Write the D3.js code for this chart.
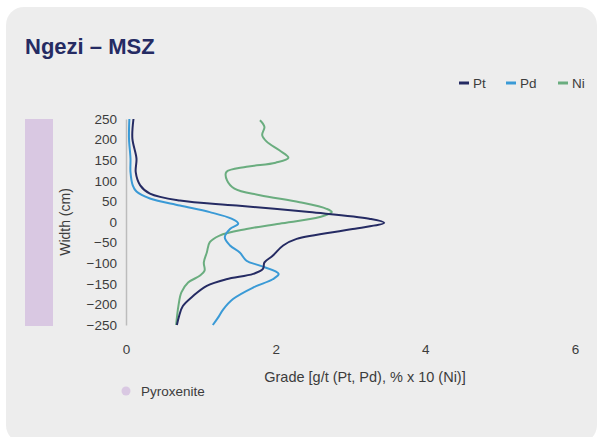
<!DOCTYPE html>
<html>
<head>
<meta charset="utf-8">
<script src="https://cdn.jsdelivr.net/npm/d3@7"></script>
<style>
  body { margin: 0; background: #fff; }
  text { font-family: "Liberation Sans", Arial, sans-serif; }
</style>
</head>
<body>
<div id="chart"></div>
<script>
    // Series: grade by depth (cm)
    const ptDepth = [250, 203, 154, 121, 89, 69, 52, 40, 24, 8, -2, -17, -41, -57, -82, -98, -114, -126, -139, -155, -179, -204, -228, -250];
    const ptGrade = [0.10, 0.085, 0.14, 0.13, 0.19, 0.32, 0.72, 1.48, 2.45, 3.25, 3.45, 3.03, 2.28, 2.10, 1.96, 1.85, 1.83, 1.70, 1.34, 1.08, 0.90, 0.76, 0.71, 0.68];

    const pdDepth = [250, 203, 154, 121, 89, 74, 57, 40, 24, 8, -4, -17, -37, -57, -74, -94, -106, -126, -139, -159, -187, -212, -232, -250];
    const pdGrade = [0.045, 0.04, 0.06, 0.06, 0.09, 0.14, 0.32, 0.72, 1.12, 1.41, 1.50, 1.39, 1.32, 1.39, 1.52, 1.61, 1.79, 2.04, 1.96, 1.70, 1.43, 1.30, 1.23, 1.16];

    const niDepth = [247, 231, 211, 195, 174, 156, 144, 134, 121, 101, 81, 65, 48, 32, 24, 12, -4, -17, -33, -49, -74, -98, -118, -130, -147, -171, -204, -250];
    const niGrade = [1.79, 1.85, 1.82, 1.88, 2.05, 2.17, 2.00, 1.61, 1.34, 1.35, 1.45, 1.79, 2.32, 2.68, 2.75, 2.59, 2.05, 1.61, 1.25, 1.12, 1.08, 1.04, 1.05, 0.99, 0.83, 0.74, 0.70, 0.67];

    const xTicks = [0, 2, 4, 6];
    const yTicks = [250, 200, 150, 100, 50, 0, -50, -100, -150, -200, -250];

    const series = [
      { name: 'Pt', color: '#252b63', depth: ptDepth, grade: ptGrade },
      { name: 'Pd', color: '#3a9ad6', depth: pdDepth, grade: pdGrade },
      { name: 'Ni', color: '#6aad7f', depth: niDepth, grade: niGrade }
    ];

    const width = 598;
    const height = 437;
    const margin = { left: 126, right: 23, top: 119, bottom: 113 };

    const svg = d3.select('#chart').append('svg')
      .attr('width', width)
      .attr('height', height);

    // card
    svg.append('rect')
      .attr('x', 6).attr('y', 7)
      .attr('width', 591).attr('height', 436)
      .attr('rx', 18)
      .attr('fill', '#ededed');

    svg.append('text')
      .attr('x', 25).attr('y', 54)
      .attr('font-size', 22).attr('font-weight', 'bold')
      .attr('fill', '#252b63')
      .text('Ngezi – MSZ');

    const x = d3.scaleLinear().domain([0, 6]).range([margin.left, width - margin.right]);
    const y = d3.scaleLinear().domain([-250, 250]).range([height - margin.bottom + 1, margin.top]);

    // pyroxenite band
    svg.append('rect')
      .attr('x', 25).attr('width', 28)
      .attr('y', y(250)).attr('height', y(-250) - y(250) + 1)
      .attr('fill', '#d9c8e2');

    // y axis
    const yAxis = svg.append('g')
      .attr('transform', `translate(${margin.left},0)`)
      .call(d3.axisLeft(y).tickValues(yTicks).tickSize(0).tickPadding(9));
    yAxis.select('.domain').attr('stroke', '#bcbcbc').attr('stroke-width', 1.5);
    yAxis.selectAll('text').attr('font-size', 13.5).attr('fill', '#3c3c3c')
      .attr('font-family', '"Liberation Sans", Arial, sans-serif');

    // x axis (labels only)
    const xAxis = svg.append('g')
      .attr('transform', `translate(0,${y(-250) + 16})`)
      .call(d3.axisBottom(x).tickValues(xTicks).tickSize(0).tickFormat(d3.format('d')));
    xAxis.select('.domain').remove();
    xAxis.selectAll('text').attr('font-size', 13.5).attr('fill', '#3c3c3c')
      .attr('font-family', '"Liberation Sans", Arial, sans-serif');

    svg.append('text')
      .attr('x', 365).attr('y', 382)
      .attr('text-anchor', 'middle')
      .attr('font-size', 14.5).attr('fill', '#3c3c3c')
      .text('Grade [g/t (Pt, Pd), % x 10 (Ni)]');

    svg.append('text')
      .attr('transform', `translate(70,${(y(250) + y(-250)) / 2}) rotate(-90)`)
      .attr('text-anchor', 'middle')
      .attr('font-size', 14).attr('fill', '#3c3c3c')
      .text('Width (cm)');

    // lines
    const line = d3.line()
      .x(d => x(d[1]))
      .y(d => y(d[0]))
      .curve(d3.curveCatmullRom.alpha(0.5));

    series.slice().reverse().forEach(s => {
      svg.append('path')
        .datum(d3.zip(s.depth, s.grade))
        .attr('fill', 'none')
        .attr('stroke', s.color)
        .attr('stroke-width', 2)
        .attr('d', line);
    });

    // legend top right
    const legendX = [459, 506, 558];
    series.forEach((s, i) => {
      const g = svg.append('g').attr('transform', `translate(${legendX[i]},83)`);
      g.append('line').attr('x1', 0).attr('x2', 10)
        .attr('stroke', s.color).attr('stroke-width', 3);
      g.append('text').attr('x', 14).attr('y', 5)
        .attr('font-size', 13.5).attr('fill', '#3c3c3c')
        .text(s.name);
    });

    // pyroxenite legend
    svg.append('circle').attr('cx', 126).attr('cy', 391).attr('r', 4.5).attr('fill', '#d9c8e2');
    svg.append('text').attr('x', 141).attr('y', 396)
      .attr('font-size', 13.5).attr('fill', '#3c3c3c')
      .text('Pyroxenite');
</script>
</body>
</html>
